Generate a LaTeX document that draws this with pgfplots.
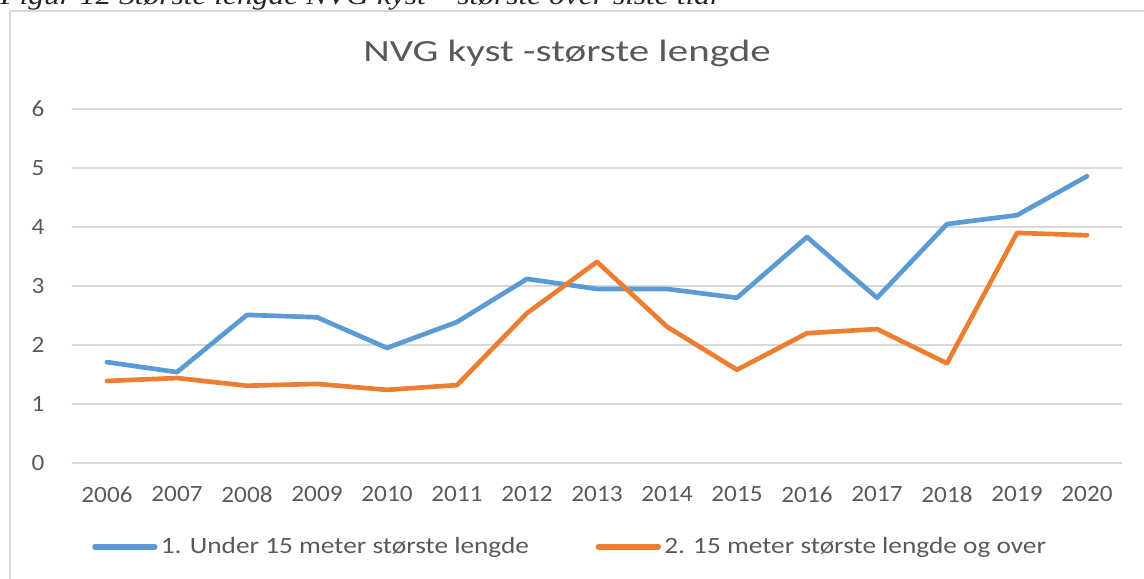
\documentclass[border=0pt]{standalone}
\usepackage{fontspec}
\setmainfont{Carlito}
\newfontfamily\capfont[FakeStretch=1.18]{Liberation Serif}
\newfontfamily\titlefont[FakeStretch=1.33]{Carlito}
\newfontfamily\legfont[FakeStretch=1.17]{Carlito}
\newfontfamily\tickfont[FakeStretch=1.08]{Carlito}
\usepackage{pgfplots}
\pgfplotsset{compat=1.18}
\definecolor{cblue}{HTML}{5B9BD5}
\definecolor{corange}{HTML}{ED7D31}
\definecolor{cgrid}{HTML}{D9D9D9}
\definecolor{ctext}{HTML}{595959}
\begin{document}
\begin{tikzpicture}
\useasboundingbox (0,0) rectangle (686.4pt,347.4pt);
\clip (0,0) rectangle (686.4pt,347.4pt);
% caption (cut off at top, as in the source page)
\node[anchor=base west, inner sep=0pt, font=\capfont\itshape\fontsize{16}{16}\selectfont, text=black!85] at (0pt,344.4pt) {Figur 12 Største lengde NVG kyst – største over siste tiår};
% frame
\draw[cgrid, line width=1.2pt] (6pt,-5pt) -- (6pt,340.8pt) -- (700pt,340.8pt);
% title
\node[font=\titlefont\fontsize{18.5}{20}\selectfont, text=ctext] at (340.2pt,315.6pt) {NVG kyst -største lengde};
\begin{axis}[
  at={(43.2pt,69.6pt)}, anchor=south west,
  scale only axis, width=630pt, height=212.4pt,
  xmin=-0.5, xmax=14.5, ymin=0, ymax=6,
  xtick={0,...,14},
  xticklabels={2006,2007,2008,2009,2010,2011,2012,2013,2014,2015,2016,2017,2018,2019,2020},
  ytick={0,1,...,6},
  axis line style={draw=none},
  major tick length=0pt,
  ymajorgrids, grid style={cgrid, line width=0.9pt},
  tick label style={font=\tickfont\fontsize{14}{15}\selectfont, text=ctext},
  /pgf/number format/assume math mode=true,
  xticklabel style={yshift=-10.5pt},
  yticklabel style={xshift=-13pt},
  legend columns=2,
  legend style={at={(0.475,-0.237)}, anchor=center, draw=none, fill=none,
    font=\legfont\fontsize{14}{15}\selectfont, text=ctext,
    /tikz/every even column/.append style={column sep=38pt}},
  legend image code/.code={\draw[#1, line width=3.2pt, line cap=round] (0pt,0pt) -- (36pt,0pt);},
]
\addplot[cblue, line width=2.8pt, line join=round, line cap=round] coordinates {
(0,1.71) (1,1.54) (2,2.51) (3,2.47) (4,1.95) (5,2.39) (6,3.12) (7,2.95) (8,2.95) (9,2.80) (10,3.83) (11,2.80) (12,4.05) (13,4.20) (14,4.86)};
\addlegendentry{1. Under 15 meter største lengde}
\addplot[corange, line width=2.8pt, line join=round, line cap=round] coordinates {
(0,1.39) (1,1.44) (2,1.31) (3,1.34) (4,1.24) (5,1.32) (6,2.54) (7,3.41) (8,2.31) (9,1.58) (10,2.20) (11,2.27) (12,1.69) (13,3.90) (14,3.86)};
\addlegendentry{2. 15 meter største lengde og over}
\end{axis}
\end{tikzpicture}
\end{document}
